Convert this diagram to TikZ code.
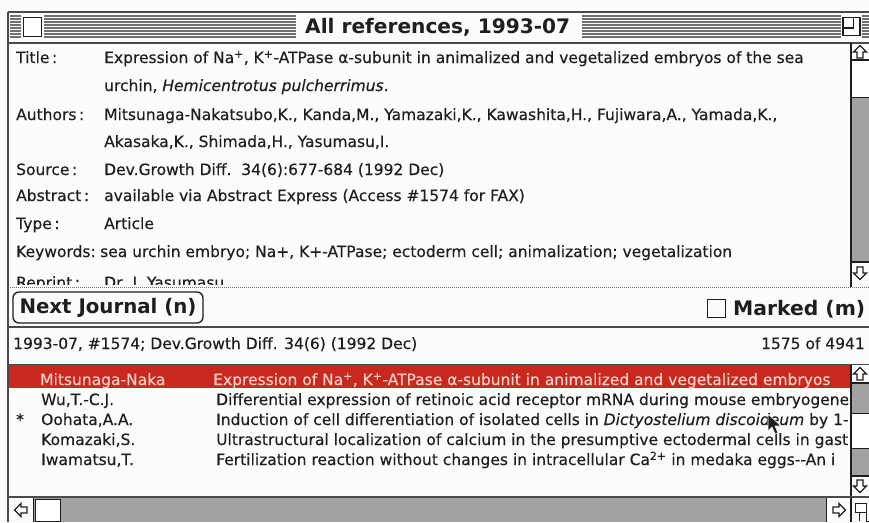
\documentclass[tikz,border=0pt]{standalone}
\usepackage{fontspec}
\setmainfont{DejaVu Sans}
\newfontfamily\screenfont[FakeBold=0.35]{DejaVu Sans}

\definecolor{paper}{HTML}{FDFBFB}
\definecolor{ink}{HTML}{1E1E1E}
\definecolor{trough}{HTML}{A2A2A2}
\definecolor{selred}{HTML}{C8281E}
\definecolor{selink}{HTML}{F6CFC6}
\definecolor{frame}{HTML}{4A4A4A}
\definecolor{stripe}{HTML}{707070}

% scale a text horizontally to a given width (in pt)
\newsavebox\fitbox
\newcommand\fitto[2]{\sbox\fitbox{#2}\pgfmathsetmacro\fitf{#1/\the\wd\fitbox}\scalebox{\fitf}[1]{\usebox\fitbox}}

\tikzset{
  txt/.style={anchor=base west, inner sep=0pt, text=ink, font=\screenfont\fontsize{15.5}{17}\selectfont},
  seltxt/.style={txt, text=selink},
  hdr/.style={anchor=base west, inner sep=0pt, text=ink, font=\fontsize{20}{22}\selectfont\bfseries},
  box/.style={draw=ink, line width=1.2pt, fill=white},
  rule/.style={draw=frame, line width=2pt},
  sarrow/.pic={\draw[ink, line width=1.2pt, line join=miter, fill=white]
      (0,-6.5) -- (6.5,0) -- (3,0) -- (3,6) -- (-3,6) -- (-3,0) -- (-6.5,0) -- cycle;},
}

\begin{document}
\begin{tikzpicture}[x=1pt, y=-1pt]
\useasboundingbox (0,0) rectangle (869,522);
\fill[paper] (0,0) rectangle (869,522);

% ---- title bar ----
\foreach \y in {16,19,...,37} {
  \draw[stripe, line width=1.1pt] (10,\y) -- (21,\y) (44,\y) -- (296,\y)
        (582,\y) -- (841,\y) (862,\y) -- (869,\y);
}
\node[box, minimum width=18, minimum height=19, inner sep=0pt] (closebox) at (32.5,27) {};
\node[hdr] (wintitle) at (305,33) {\fitto{265}{All references, 1993-07}};
\node[box, minimum width=17, minimum height=18, inner sep=0pt] (zoombox) at (851.5,26.5) {};
\draw[ink, line width=1.2pt] (zoombox.north west) ++(0,11) -| ([xshift=-7]zoombox.north east);
\draw[frame, line width=1.2pt] (8,12) -- (869,12);
\draw[frame, line width=1.6pt] (8,43) -- (869,43);
\draw[frame, line width=1.6pt] (8,12) -- (8,522);

% ---- record pane ----
\begin{scope}
\clip (9,44) rectangle (850,284);
\node[txt] (l1) at (16,63)  {Title\,:};
\node[txt] (v1) at (104,63) {Expression of Na\textsuperscript{+}, K\textsuperscript{+}-ATPase α-subunit in animalized and vegetalized embryos of the sea};
\node[txt] (v2) at (104,91) {urchin, \textit{Hemicentrotus pulcherrimus}.};
\node[txt] (l3) at (16,120) {Authors\,:};
\node[txt] (v3) at (104,120) {Mitsunaga-Nakatsubo,K., Kanda,M., Yamazaki,K., Kawashita,H., Fujiwara,A., Yamada,K.,};
\node[txt] (v4) at (104,147) {Akasaka,K., Shimada,H., Yasumasu,I.};
\node[txt] (l5) at (16,175) {Source\,:};
\node[txt] (v5) at (104,175) {Dev.Growth Diff.\ \ 34(6):677-684 (1992 Dec)};
\node[txt] (l6) at (16,201) {Abstract\,:};
\node[txt] (v6) at (104,201) {available via Abstract Express (Access \#1574 for FAX)};
\node[txt] (l7) at (16,229) {Type\,:};
\node[txt] (v7) at (104,229) {Article};
\node[txt] (l8) at (16,257) {Keywords:};
\node[txt] (v8) at (100,257) {sea urchin embryo; Na+, K+-ATPase; ectoderm cell; animalization; vegetalization};
\node[txt] (l9) at (16,288) {Reprint\,:};
\node[txt] (v9) at (104,288) {Dr. I. Yasumasu};
\end{scope}

% record pane scroll bar
\fill[trough] (851,60) rectangle (869,262);
\draw[ink, line width=1.2pt] (851,43) -- (851,287);
\draw[ink, line width=1.2pt] (851,60) -- (869,60) (851,262) -- (869,262);
\node[box, minimum width=18, minimum height=37, inner sep=0pt, anchor=north west] (thumbA) at (851,60) {};
\pic at (860,52) {sarrow};
\pic[rotate=180] at (860,273) {sarrow};
\draw[stripe, line width=0.8pt, dash pattern=on 1pt off 1pt] (10,287) -- (869,287);

% ---- button row ----
\node[draw=ink, line width=1.3pt, rounded corners=6pt, minimum width=190, minimum height=31, inner sep=0pt,
      font=\fontsize{20}{22}\selectfont\bfseries, text=ink] (nextbtn) at (108,307.5) {\fitto{177}{Next Journal (n)}};
\node[draw=ink, line width=1.5pt, minimum size=18, inner sep=0pt] (markbox) at (716.5,308.5) {};
\node[hdr] (marklbl) at (733,315) {\fitto{132}{Marked (m)}};
\draw[rule] (8,327) -- (869,327);

% ---- status line ----
\node[txt] (info) at (13,349) {1993-07, \#1574; Dev.Growth Diff. 34(6) (1992 Dec)};
\node[txt, anchor=base east] (count) at (865,349) {1575 of 4941};
\draw[frame, line width=1.2pt] (8,364.5) -- (869,364.5);

% ---- list pane ----
\fill[selred] (9,365) rectangle (850,388);
\begin{scope}
\clip (9,365) rectangle (848,495);
\node[seltxt] (a1) at (40,385) {Mitsunaga-Naka};
\node[seltxt] (t1) at (213,385) {Expression of Na\textsuperscript{+}, K\textsuperscript{+}-ATPase α-subunit in animalized and vegetalized embryos};
\node[txt] (a2) at (41,405) {Wu,T.-C.J.};
\node[txt] (t2) at (216,405) {Differential expression of retinoic acid receptor mRNA during mouse embryogene};
\node[txt] (s3) at (16,425) {*};
\node[txt] (a3) at (41,425) {Oohata,A.A.};
\node[txt] (t3) at (216,425) {Induction of cell differentiation of isolated cells in \textit{Dictyostelium discoideum} by 1-};
\node[txt] (a4) at (41,445) {Komazaki,S.};
\node[txt] (t4) at (216,445) {Ultrastructural localization of calcium in the presumptive ectodermal cells in gast};
\node[txt] (a5) at (41,465) {Iwamatsu,T.};
\node[txt] (t5) at (216,465) {Fertilization reaction without changes in intracellular Ca\textsuperscript{2+} in medaka eggs-{}-An i};
\end{scope}

% mouse pointer
\fill[ink, draw=white, line width=0.6pt] (768,414) -- (768,431) -- (772,427) -- (775,434) -- (778,433) -- (775,426) -- (781,426) -- cycle;

% list pane scroll bar
\fill[trough] (851,383) rectangle (869,476);
\draw[ink, line width=1.2pt] (851,365) -- (851,496);
\draw[ink, line width=1.2pt] (851,383) -- (869,383) (851,476) -- (869,476);
\node[box, minimum width=18, minimum height=35, inner sep=0pt, anchor=north west] (thumbB) at (851,413) {};
\pic at (860,374) {sarrow};
\pic[rotate=180] at (860,486) {sarrow};
\draw[rule] (8,496.5) -- (869,496.5);

% ---- horizontal scroll bar ----
\fill[trough] (34,498) rectangle (826,522);
\draw[ink, line width=1.2pt] (33.5,498) -- (33.5,522) (826.5,498) -- (826.5,522) (851,498) -- (851,522);
\node[box, minimum width=25, minimum height=22, inner sep=0pt, anchor=north west] (thumbC) at (35,499) {};
\pic[rotate=90] at (21,510) {sarrow};
\pic[rotate=-90] at (839,510) {sarrow};
% size box
\node[draw=ink, line width=1.2pt, fill=white, minimum width=11, minimum height=9, inner sep=0pt, anchor=north west] (growA) at (855,503) {};
\draw[ink, line width=1.2pt] (growA.south) ++(-2,0) -- ++(0,8) (growA.south east) ++(-1,0) -- ++(0,8) -- ++(3,0);
\end{tikzpicture}
\end{document}
